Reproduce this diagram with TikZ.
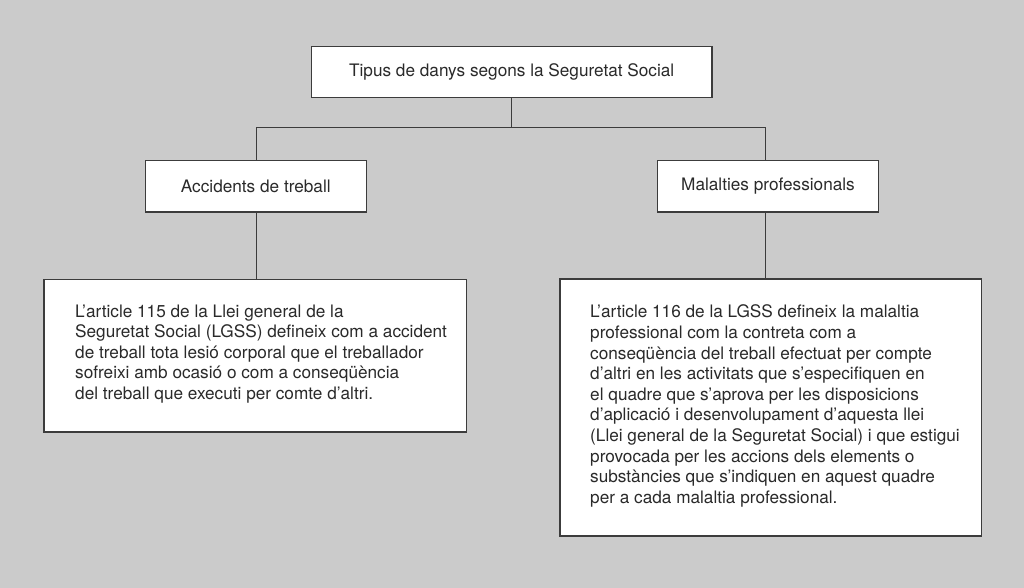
\documentclass[tikz,border=0pt]{standalone}
\usepackage{fontspec}
\setmainfont{TeX Gyre Heros}
\definecolor{bg}{HTML}{CBCBCB}
\definecolor{ink}{HTML}{2A2A2A}
\definecolor{edge}{HTML}{3C3C3C}
\begin{document}
\begin{tikzpicture}[x=1pt,y=-1pt,
  box/.style={draw=edge, line width=1.2pt, fill=white, inner sep=0pt, text=ink},
  conn/.style={draw=edge, line width=0.9pt},
  txt/.style={anchor=west, align=left, inner sep=0pt, text=ink, font=\fontsize{17.2}{20.6}\selectfont}]
\fill[bg] (0,0) rectangle (1024,588);
\useasboundingbox (0,0) rectangle (1024,588);

\node[box, minimum width=400.5pt, minimum height=51pt, font=\fontsize{17.2}{20.6}\selectfont] (top) at (511.7,72) {Tipus de danys segons la Seguretat Social};
\node[box, minimum width=221pt, minimum height=51.3pt, font=\fontsize{17.2}{20.6}\selectfont] (acc) at (255.8,186.3) {Accidents de treball};
\node[box, minimum width=220.6pt, minimum height=51.3pt, font=\fontsize{17.2}{20.6}\selectfont] (mal) at (768,186.3) {Malalties professionals};
\node[box, minimum width=422.7pt, minimum height=152.7pt] (accd) at (255.35,355.65) {};
\node[box, minimum width=421.7pt, minimum height=257pt] (mald) at (770.85,407.5) {};

\node[txt] (acct) at (75,354) {L’article 115 de la Llei general de la\\
Seguretat Social (LGSS) defineix com a accident\\
de treball tota lesió corporal que el treballador\\
sofreixi amb ocasió o com a conseqüència\\
del treball que executi per comte d’altri.};

\node[txt] (malt) at (590,406) {L’article 116 de la LGSS defineix la malaltia\\
professional com la contreta com a\\
conseqüència del treball efectuat per compte\\
d’altri en les activitats que s’especifiquen en\\
el quadre que s’aprova per les disposicions\\
d’aplicació i desenvolupament d’aquesta llei\\
(Llei general de la Seguretat Social) i que estigui\\
provocada per les accions dels elements o\\
substàncies que s’indiquen en aquest quadre\\
per a cada malaltia professional.};

\coordinate (hb) at (511.7,127.3);
\draw[conn] (top.south) -- (hb);
\draw[conn] ([xshift=0.9pt]acc.north) |- (hb);
\draw[conn] (hb) -| ([xshift=-2.3pt]mal.north);
\draw[conn] ([xshift=0.9pt]acc.south) -- ([xshift=0.9pt]acc.south |- accd.north);
\draw[conn] ([xshift=-2.3pt]mal.south) -- ([xshift=-2.3pt]mal.south |- mald.north);
\end{tikzpicture}
\end{document}
